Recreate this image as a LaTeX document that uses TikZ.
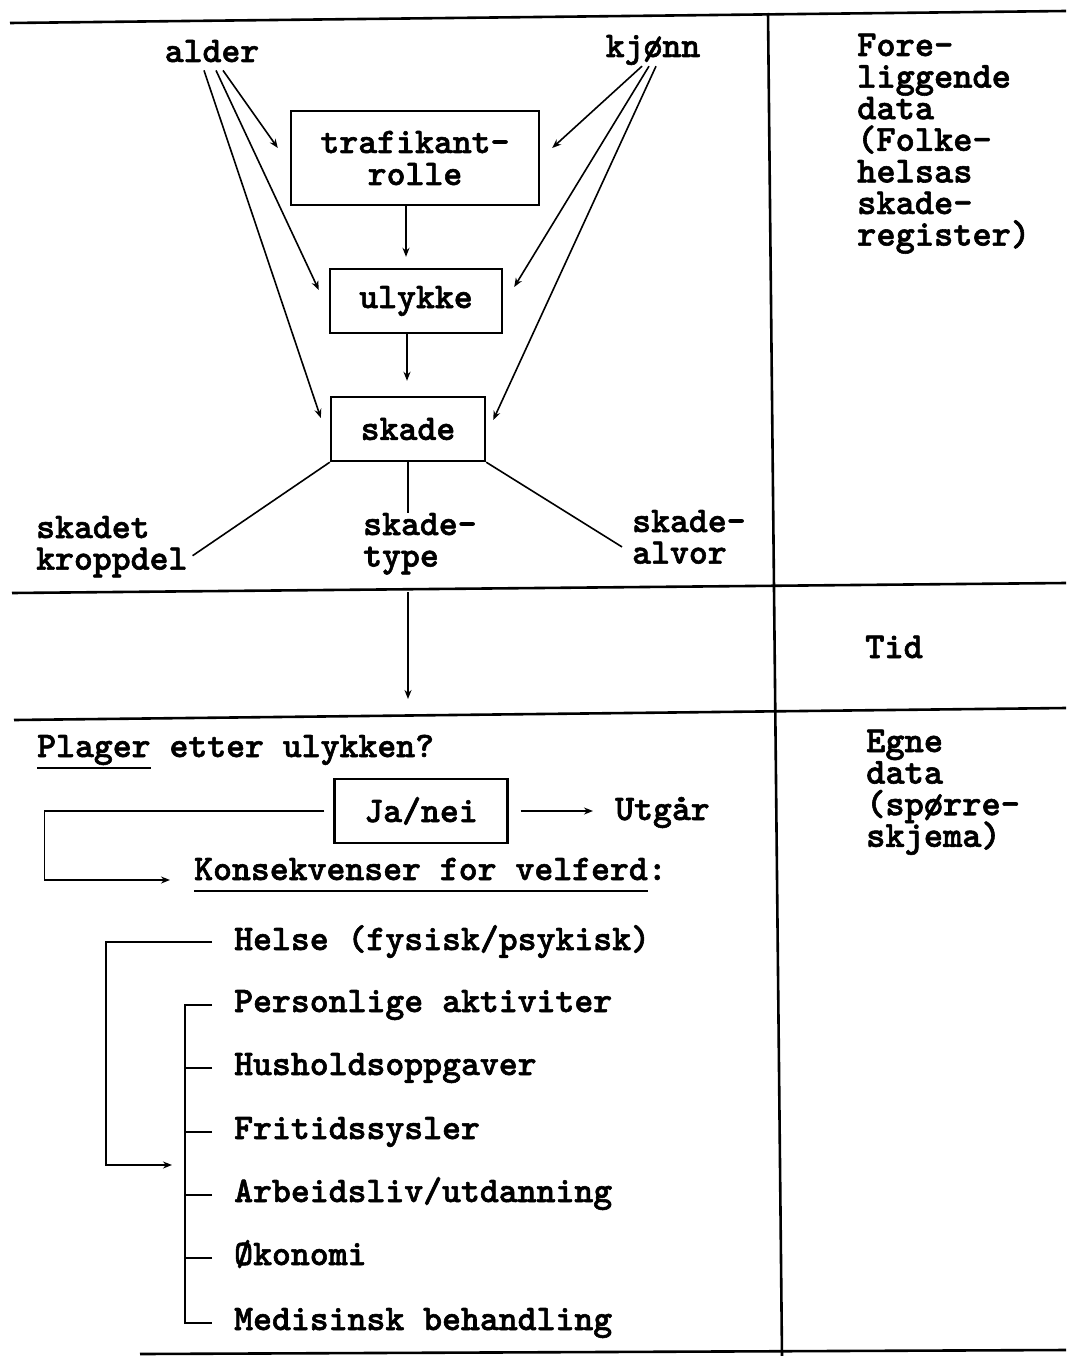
\documentclass[tikz,border=0pt]{standalone}
\usepackage{fontspec}
\newfontfamily\tw{lmmonolt10-bold}[Extension=.otf, FakeBold=1.6]
\usetikzlibrary{arrows.meta}
% left-aligned block of lines at a fixed line pitch; baseline is the first line's
\newcommand\stack[1]{\vtop{\let\\\cr\baselineskip=31.6pt\lineskiplimit=-100pt\lineskip=0pt
  \halign{##\hfil\cr#1\crcr}}}
% typewriter-style underline at a fixed depth
\newcommand\uln[1]{\vtop{\hbox{\rule[-8pt]{0pt}{0pt}#1}\kern2pt\hrule height 2pt}}
\begin{document}
\begin{tikzpicture}[x=1pt,y=-1pt,
  txt/.style={font=\tw\fontsize{36}{32}\selectfont, inner sep=0pt},
  side/.style={font=\tw\fontsize{36.6}{32}\selectfont, inner sep=0pt, anchor=base west},
  box/.style={draw, line width=2.4pt, txt, align=center},
  sep/.style={line width=2.6pt},
  link/.style={line width=1.6pt},
  arr/.style={link, -{Stealth[length=9pt,width=7pt]}},
]
\useasboundingbox (0,0) rectangle (1066,1356);

% table rules
\draw[sep] (10,23) -- (1066,11);
\draw[sep] (768,13) -- (782,1356);
\draw[sep] (12,593) -- (1066,583);
\draw[sep] (14,720) -- (1066,708);
\draw[sep] (140,1354) -- (1066,1350);

% registry data block
\node[txt, anchor=base] (alder) at (212,62) {alder};
\node[txt, anchor=base] (kjonn) at (653,57) {kjønn};
\node[box, minimum width=248, minimum height=94] (traf) at (415,158) {trafikant-\\rolle};
\node[box, minimum width=172, minimum height=64] (ulyk) at (416,301) {ulykke};
\node[box, minimum width=154, minimum height=64] (skade) at (408,429) {skade};
\node[txt, anchor=base west] (kropp) at (36,538) {\stack{skadet\\kroppdel}};
\node[txt, anchor=base west] (type) at (363,535) {\stack{skade-\\type}};
\node[txt, anchor=base west] (alvor) at (632,532) {\stack{skade-\\alvor}};

\draw[arr] ([xshift=11,yshift=-8]alder.south) -- ([xshift=-12,yshift=10]traf.west);
\draw[arr] ([xshift=4,yshift=-8]alder.south) -- ([xshift=-10,yshift=11]ulyk.west);
\draw[arr] ([xshift=-8,yshift=-8]alder.south) -- ([xshift=-9,yshift=11]skade.west);
\draw[arr] ([xshift=-11,yshift=-1]kjonn.south) -- ([xshift=12,yshift=10]traf.east);
\draw[arr] ([xshift=-4,yshift=-1]kjonn.south) -- ([xshift=11,yshift=14]ulyk.east);
\draw[arr] ([xshift=3,yshift=-1]kjonn.south) -- ([xshift=7,yshift=9]skade.east);
\draw[arr] ([xshift=-9]traf.south) -- ([xshift=-10,yshift=11]ulyk.north);
\draw[arr] ([xshift=-9]ulyk.south) -- ([xshift=-1,yshift=15]skade.north);

\draw[link] (skade.south west) -- ([xshift=5,yshift=-9]kropp.east);
\draw[link] (skade.south) -- (skade.south |- type.north);
\draw[link] (skade.south east) -- ([xshift=-10,yshift=-10]alvor.west);

% time
\coordinate (t0) at (408,592);
\coordinate (t1) at (408,699);
\draw[arr] (t0) -- (t1);

% right column
\node[side] (fore) at (857,56) {\stack{Fore-\\liggende\\data\\(Folke-\\helsas\\skade-\\register)}};
\node[side] (tid) at (865,658) {Tid};
\node[side] (egne) at (866,752) {\stack{Egne\\data\\(spørre-\\skjema)}};

% questionnaire block
\node[txt, anchor=base west] (plager) at (37,757) {\uln{Plager} etter ulykken?};
\node[box, minimum width=173, minimum height=64] (janei) at (421,811) {Ja/nei};
\node[txt, anchor=base west] (utgar) at (615,820) {Utgår};
\node[txt, anchor=base west] (kons) at (194,880) {\uln{Konsekvenser for velferd}:};

\draw[arr] ([xshift=12]janei.east) -- ([xshift=-22]utgar.west |- janei.east);
\draw[arr] ([xshift=-9]janei.west) -- ++(-280,0) |- ([xshift=-24]kons.base west);

\node[txt, anchor=base west] (helse) at (234,950) {Helse (fysisk/psykisk)};
\node[txt, anchor=base west] (pers) at (234,1012) {Personlige aktiviter};
\node[txt, anchor=base west] (hush) at (234,1075) {Husholdsoppgaver};
\node[txt, anchor=base west] (frit) at (234,1139) {Fritidssysler};
\node[txt, anchor=base west] (arb) at (234,1202) {Arbeidsliv/utdanning};
\node[txt, anchor=base west] (oko) at (234,1265) {Økonomi};
\node[txt, anchor=base west] (med) at (234,1330) {Medisinsk behandling};

\coordinate (merge) at (172,1165);
\draw[arr] ([xshift=-22,yshift=8]helse.base west) -- ++(-106,0) |- (merge);
\draw[link] ([xshift=-22,yshift=7]pers.base west) -- ++(-27,0) |- ([xshift=-22,yshift=7]med.base west);
\foreach \n in {hush,frit,arb,oko}
  \draw[link] ([xshift=-22,yshift=7]\n.base west) -- ++(-27,0);
\end{tikzpicture}
\end{document}
